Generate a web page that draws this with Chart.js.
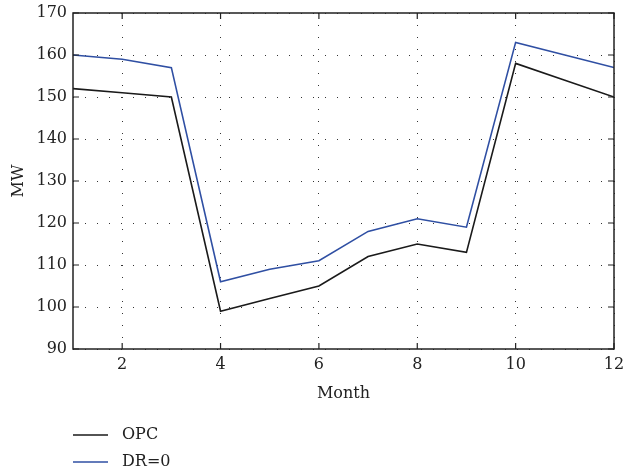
<!DOCTYPE html>
<html>
<head>
<meta charset="utf-8">
<script src="https://cdn.jsdelivr.net/npm/chart.js@4.4.0/dist/chart.umd.min.js"></script>
<style>
  html, body { margin: 0; padding: 0; background: #fff; }
  #wrap { width: 624px; height: 474px; }
</style>
</head>
<body>
<div id="wrap"><canvas id="monthChart" width="624" height="474"></canvas></div>
<script>
// data
const months = [1, 2, 3, 4, 5, 6, 7, 8, 9, 10, 11, 12];
const opcValues = [152, 151, 150, 99, 102, 105, 112, 115, 113, 158, 154, 150];
const dr0Values = [160, 159, 157, 106, 109, 111, 118, 121, 119, 163, 160, 157];
const xTicks = [2, 4, 6, 8, 10, 12];
const yTicks = [90, 100, 110, 120, 130, 140, 150, 160, 170];
const seriesNames = ["OPC", "DR=0"];
const seriesColors = ["#1a1a1a", "#2f4fa3"];

const fontName = "'DejaVu Serif', serif";

function toPoints(values) {
    points = [];
    for (i = 0; i < months.length; i++) {
        points.push({ x: months[i], y: values[i] });
    }
    return points;
}

// frame, inward tick marks and the stacked legend underneath
const framePlugin = {
    id: 'frame',
    afterDraw(chart) {
        const ctx = chart.ctx;
        const a = chart.chartArea;
        const xs = chart.scales.x;
        const ys = chart.scales.y;
        ctx.save();
        ctx.strokeStyle = '#222';
        ctx.lineWidth = 1.5;
        ctx.strokeRect(a.left, a.top, a.right - a.left, a.bottom - a.top);
        ctx.lineWidth = 1.2;
        ctx.beginPath();
        xs.ticks.forEach(t => {
            const px = xs.getPixelForValue(t.value);
            ctx.moveTo(px, a.bottom); ctx.lineTo(px, a.bottom - 6);
            ctx.moveTo(px, a.top); ctx.lineTo(px, a.top + 6);
        });
        ys.ticks.forEach(t => {
            const py = ys.getPixelForValue(t.value);
            ctx.moveTo(a.left, py); ctx.lineTo(a.left + 6, py);
            ctx.moveTo(a.right, py); ctx.lineTo(a.right - 6, py);
        });
        ctx.stroke();

        // legend
        ctx.font = '16px ' + fontName;
        ctx.textBaseline = 'middle';
        ctx.fillStyle = '#222';
        chart.data.datasets.forEach((ds, k) => {
            const y = 435 + k * 27;
            ctx.strokeStyle = ds.borderColor;
            ctx.lineWidth = 1.5;
            ctx.beginPath();
            ctx.moveTo(73, y); ctx.lineTo(108, y);
            ctx.stroke();
            ctx.fillText(ds.label, 122, y);
        });
        ctx.restore();
    }
};

new Chart(document.getElementById("monthChart"), {
    type: 'line',
    data: {
        datasets: [
            {
                label: seriesNames[0],
                data: toPoints(opcValues),
                borderColor: seriesColors[0],
                borderWidth: 1.6,
                pointRadius: 0,
                tension: 0
            },
            {
                label: seriesNames[1],
                data: toPoints(dr0Values),
                borderColor: seriesColors[1],
                borderWidth: 1.6,
                pointRadius: 0,
                tension: 0
            }
        ]
    },
    options: {
        responsive: false,
        animation: false,
        layout: { padding: { top: 13, right: 10, bottom: 65, left: 0 } },
        plugins: {
            legend: { display: false },
            tooltip: { enabled: false }
        },
        scales: {
            x: {
                type: 'linear',
                min: 1,
                max: 12,
                afterBuildTicks: s => { s.ticks = xTicks.map(v => ({ value: v })); },
                afterFit: s => { s.height = 60; s.paddingLeft = 0; s.paddingRight = 0; },
                grid: { color: '#333', lineWidth: 1, drawTicks: false },
                border: { display: false, dash: [1, 11] },
                ticks: { padding: 6, color: '#222', font: { family: fontName, size: 16 } },
                title: {
                    display: true,
                    text: 'Month',
                    color: '#222',
                    padding: { top: 4, bottom: 6 },
                    font: { family: fontName, size: 16 }
                }
            },
            y: {
                min: 90,
                max: 170,
                afterBuildTicks: s => { s.ticks = yTicks.map(v => ({ value: v })); },
                afterFit: s => { s.width = 73; s.paddingTop = 0; s.paddingBottom = 0; },
                grid: { color: '#333', lineWidth: 1, drawTicks: false },
                border: { display: false, dash: [1, 11] },
                ticks: { padding: 6, color: '#222', font: { family: fontName, size: 16 } },
                title: {
                    display: true,
                    text: 'MW',
                    color: '#222',
                    padding: { top: 9, bottom: 4 },
                    font: { family: fontName, size: 16 }
                }
            }
        }
    },
    plugins: [framePlugin]
});
</script>
</body>
</html>
